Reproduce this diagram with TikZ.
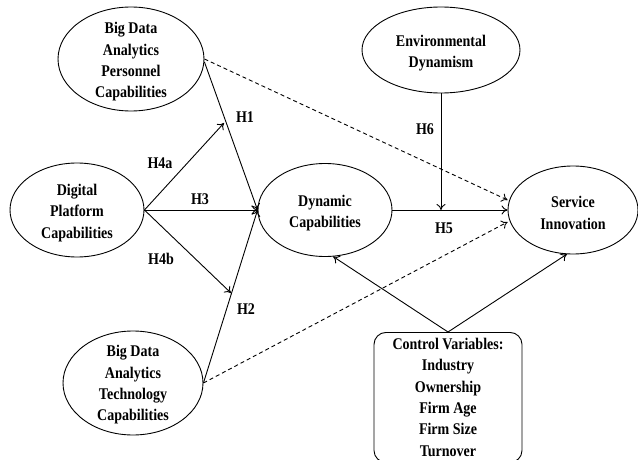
\documentclass[tikz,border=0pt]{standalone}
\usepackage{fontspec}
\setmainfont{Liberation Serif}[FakeStretch=0.86]
\usetikzlibrary{shapes.geometric,arrows.meta}
\begin{document}
\begin{tikzpicture}[x=1pt,y=-1pt,
  every node/.style={font=\fontsize{16.3}{21.3}\selectfont\bfseries, align=center},
  ell/.style={ellipse, draw, line width=0.9pt, inner sep=0pt},
  txt/.style={inner sep=0pt},
  arr/.style={line width=0.9pt, -{To[length=6pt,width=9pt]}},
  darr/.style={arr, dashed, dash pattern=on 4pt off 3pt},
  lab/.style={inner sep=0pt}]
\useasboundingbox (0,0) rectangle (638,460);
\node[ell, minimum width=146, minimum height=104] (bdap) at (131,59) {};
\node[txt] (bdapT) at (131,62) {Big Data\\Analytics\\Personnel\\Capabilities};
\node[ell, minimum width=134, minimum height=94] (dpc) at (77,210) {};
\node[txt] (dpcT) at (77,213) {Digital\\Platform\\Capabilities};
\node[ell, minimum width=134, minimum height=93] (dc) at (325,210) {};
\node[txt] (dcT) at (325,213) {Dynamic\\Capabilities};
\node[ell, minimum width=158, minimum height=86] (ed) at (441,50) {};
\node[txt] (edT) at (441,53) {Environmental\\Dynamism};
\node[ell, minimum width=130, minimum height=88] (si) at (573,210) {};
\node[txt] (siT) at (573,213) {Service\\Innovation};
\node[ell, minimum width=140, minimum height=104] (bdat) at (133,383) {};
\node[txt] (bdatT) at (133,385) {Big Data\\Analytics\\Technology\\Capabilities};
\node[draw, line width=0.9pt, rounded corners=12pt, minimum width=148, minimum height=130, anchor=north, inner sep=0pt] (cv) at (448,332) {};
\node[anchor=north, inner sep=0pt] (cvt) at (448,338) {Control Variables:\\Industry\\Ownership\\Firm Age\\Firm Size\\Turnover};
\coordinate (h4at) at (224,123);
\coordinate (h4bt) at (231,293);
\coordinate (h5m) at (441,210);
% solid arrows
\draw[arr] (bdap.east) ++(0,3) coordinate (bdapS) -- (dc.west);
\draw[arr] (bdat.east) -- (dc.west);
\draw[arr] (dpc.east) -- (h4at);
\draw[arr] (dpc.east) -- (dc.west);
\draw[arr] (dpc.east) -- (h4bt);
\draw[arr] (dc.east) -- (si.west);
\draw[arr] (ed.south) -- (h5m);
\draw[arr] (cv.north) -- (dc.-80);
\draw[arr] (cv.north) -- (si.-98);
% dashed
\draw[darr] (bdap.east) -- ([yshift=10pt]si.west);
\draw[darr] (bdat.east) -- ([yshift=-12pt]si.west);
% labels
\node[lab] (l1) at (245,117) {H1};
\node[lab] (l4a) at (160,163) {H4a};
\node[lab] (l3) at (200,199) {H3};
\node[lab] (l4b) at (161,259) {H4b};
\node[lab] (l2) at (246,309) {H2};
\node[lab] (l5) at (444,228) {H5};
\node[lab] (l6) at (425,129) {H6};
\end{tikzpicture}
\end{document}
